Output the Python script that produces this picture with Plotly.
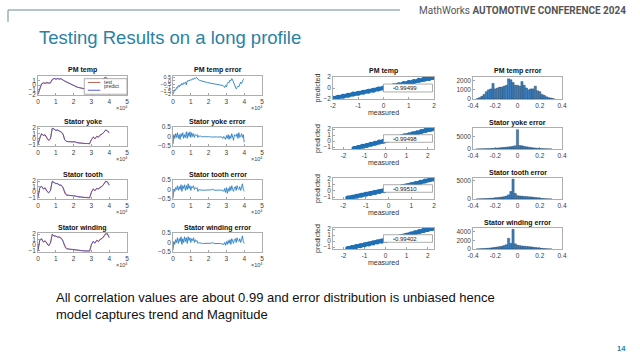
import plotly.graph_objects as go

# ---------------- data ----------------
ts_titles = ["PM temp", "Stator yoke", "Stator tooth", "Stator winding"]
err_titles = ["PM temp error", "Stator yoke error", "Stator tooth error", "Stator winding error"]
hist_titles = ["PM temp error", "Stator yoke error", "Stator tooth error", "Stator winding error"]
time_ticks = [0, 1, 2, 3, 4, 5]

pm_test = [-2.0,-0.6,0.2,0.5,0.3,0.6,0.4,0.5,1.2,1.35,1.2,1.4,1.2,1.35,1.0,0.8,0.6,0.4,0.2,0.0,-0.15,-0.3,-0.45,-0.55,-0.65,-0.75,-0.85,-0.9,-1.0,-1.05,-0.8,-0.5,-0.3,0.0,0.3,0.5,0.9,1.4,1.6,1.2,1.0]
pm_pred = [-1.9,-0.5,0.3,0.4,0.4,0.5,0.5,0.4,1.1,1.4,1.3,1.3,1.3,1.3,1.05,0.85,0.62,0.42,0.22,0.02,-0.12,-0.28,-0.43,-0.53,-0.63,-0.73,-0.83,-0.88,-0.98,-1.0,-0.7,-0.6,-0.2,-0.1,0.4,0.4,1.0,1.3,1.7,1.3,1.1]
yoke_test = [-1.0,0.2,1.0,0.6,0.8,0.1,-0.3,0.0,2.0,1.8,1.6,1.7,1.4,1.3,1.0,-0.2,-0.45,-0.5,-0.5,-0.5,-0.5,-0.55,-0.7,-0.75,-0.75,-0.8,-0.8,-0.85,-0.85,-0.9,-0.1,0.3,0.0,0.5,0.3,0.8,0.9,1.3,1.6,1.5,1.1]
yoke_pred = [-0.9,0.3,0.9,0.7,0.7,0.2,-0.2,0.1,1.9,1.9,1.5,1.6,1.5,1.2,0.9,-0.1,-0.45,-0.5,-0.5,-0.5,-0.5,-0.55,-0.7,-0.75,-0.75,-0.8,-0.8,-0.85,-0.85,-0.85,-0.2,0.4,0.1,0.4,0.4,0.7,1.0,1.2,1.7,1.4,1.2]
tooth_test = [-1.0,0.8,1.0,0.6,0.7,0.1,-0.2,0.3,2.0,1.7,1.6,1.5,1.3,1.2,0.9,-0.2,-0.6,-0.6,-0.65,-0.7,-0.7,-0.75,-0.9,-0.95,-0.95,-1.0,-1.0,-1.0,-1.05,-1.1,0.0,0.5,0.2,0.7,0.5,0.9,1.0,1.5,2.0,1.8,1.3]
tooth_pred = [-0.9,0.7,1.1,0.5,0.8,0.2,-0.1,0.2,1.9,1.8,1.5,1.6,1.2,1.3,0.8,-0.1,-0.6,-0.6,-0.65,-0.7,-0.7,-0.75,-0.9,-0.95,-0.95,-1.0,-1.0,-1.0,-1.05,-1.05,-0.1,0.6,0.3,0.6,0.6,0.8,1.1,1.4,1.9,1.9,1.2]
wind_test = [-1.1,0.9,1.1,0.5,0.8,0.2,-0.2,0.4,2.0,1.6,1.7,1.4,1.5,1.2,0.8,-0.3,-0.7,-0.75,-0.8,-0.8,-0.85,-0.9,-1.0,-1.05,-1.05,-1.1,-1.1,-1.1,-1.15,-1.15,0.1,0.6,0.3,0.9,0.6,1.1,1.2,1.6,2.1,2.0,1.4]
wind_pred = [-1.0,0.8,1.2,0.6,0.7,0.3,-0.1,0.3,1.9,1.7,1.6,1.5,1.4,1.3,0.7,-0.2,-0.7,-0.75,-0.8,-0.8,-0.85,-0.9,-1.0,-1.05,-1.05,-1.1,-1.1,-1.1,-1.15,-1.1,0.0,0.7,0.4,0.8,0.7,1.0,1.3,1.5,2.0,2.1,1.3]

pm_err = [-2.0,-1.6,-1.3,-1.4,-1.0,-1.1,-0.7,-0.9,-0.6,-0.7,-0.4,-0.6,-0.3,-0.4,-0.2,-0.6,0.0,-0.1,0.1,0.0,0.2,0.1,0.3,0.2,0.4,0.3,0.5,0.4,0.2,0.1,0.05,0.0,-0.05,-0.1,-0.12,-0.15,-0.2,-0.22,-0.25,-0.28,-0.3,-0.32,-0.35,-0.37,-0.4,-0.42,-0.45,-0.47,-0.5,-0.52,-0.55,-0.57,-0.6,-0.62,-0.65,-0.67,-0.7,-0.8,-1.0,-0.7,-0.9,-0.4,-0.2,-0.3,0.1,0.0,0.3,0.1,-0.3,-0.6,-1.0,-1.2,-1.0,-0.8,-0.9,-0.5,-0.2,-0.4,0.0,0.2,0.3]
yoke_err = [-0.4,0.1,-0.1,0.15,-0.05,0.2,-0.1,0.1,-0.15,0.15,0.0,0.2,-0.1,0.1,-0.05,0.25,-0.1,0.2,0.0,0.25,-0.05,0.2,0.0,0.15,-0.05,0.1,0.05,0.1,-0.05,0.05,0.0,0.02,-0.02,0.0,0.0,-0.02,0.0,0.0,-0.02,0.0,0.0,-0.02,0.0,-0.02,-0.03,-0.02,-0.03,-0.02,-0.03,-0.02,-0.03,-0.02,-0.03,-0.03,-0.02,-0.03,-0.1,0.0,-0.05,-0.15,0.05,-0.1,0.1,-0.15,0.05,-0.1,0.15,0.0,-0.2,0.1,0.05,0.0,0.15,-0.1,0.2,-0.05,0.0,0.15,-0.05,0.1,-0.3]
tooth_err = [-0.45,0.0,-0.1,0.1,0.0,0.2,-0.05,0.15,0.0,0.25,-0.1,0.2,0.05,0.25,-0.05,0.2,0.0,0.3,0.05,0.2,-0.05,0.15,0.1,0.2,0.0,0.1,0.05,0.1,-0.1,0.0,-0.02,-0.03,-0.03,-0.03,-0.03,-0.04,-0.03,-0.03,-0.04,-0.03,-0.03,-0.03,-0.03,-0.02,0.02,-0.03,-0.03,-0.04,-0.03,-0.03,-0.04,-0.03,-0.03,-0.03,-0.04,-0.03,-0.05,-0.1,0.05,-0.15,0.1,-0.2,0.05,-0.1,0.15,-0.05,0.2,0.0,-0.1,0.1,0.15,-0.05,0.2,0.05,0.0,0.15,-0.05,0.1,0.3,0.0,-0.1]
wind_err = [-0.4,0.05,-0.1,0.15,0.0,0.25,-0.05,0.2,0.05,0.3,-0.1,0.2,0.0,0.3,0.05,0.25,-0.05,0.3,0.1,0.25,0.0,0.2,0.1,0.25,0.0,0.15,0.05,0.1,-0.05,0.0,-0.02,-0.05,-0.04,-0.05,-0.05,-0.06,-0.05,-0.05,-0.06,-0.05,-0.05,-0.05,-0.05,-0.04,0.0,-0.05,-0.05,-0.06,-0.05,-0.05,-0.06,-0.05,-0.05,-0.05,-0.06,-0.05,-0.08,-0.1,0.0,-0.15,0.05,-0.1,0.1,-0.05,0.15,-0.1,0.2,0.05,-0.05,0.15,0.2,0.0,0.25,0.1,0.05,0.2,0.0,0.15,0.35,0.05,-0.05]

sc_pm_meas = [-2.0,-1.8,-1.6,-1.4,-1.2,-1.0,-0.8,-0.6,-0.4,-0.2,0.0,0.2,0.4,0.6,0.8,1.0,1.2,1.4,1.6,1.8,2.0]
sc_pm_pred = [-1.85,-1.7,-1.5,-1.3,-1.1,-0.95,-0.75,-0.6,-0.4,-0.2,0.0,0.2,0.4,0.6,0.8,1.0,1.2,1.4,1.6,1.75,1.9]
sc_yoke_meas = [-1.5,-1.3,-1.1,-0.9,-0.7,-0.5,-0.3,-0.1,0.1,0.3,0.5,0.7,0.9,1.1,1.3,1.5,1.7,1.9,2.1,2.2]
sc_yoke_pred = [-1.2,-1.05,-0.85,-0.7,-0.5,-0.35,-0.15,0.0,0.2,0.35,0.55,0.7,0.9,1.05,1.25,1.4,1.6,1.8,1.95,2.05]
sc_tooth_meas = [-1.8,-1.6,-1.4,-1.2,-1.0,-0.8,-0.6,-0.4,-0.2,0.0,0.2,0.4,0.6,0.8,1.0,1.2,1.4,1.6,1.8,2.0]
sc_tooth_pred = [-1.15,-1.0,-0.85,-0.7,-0.55,-0.4,-0.25,-0.1,0.05,0.2,0.35,0.5,0.65,0.8,1.0,1.2,1.4,1.6,1.8,1.95]
sc_wind_meas = [-1.8,-1.6,-1.4,-1.2,-1.0,-0.8,-0.6,-0.4,-0.2,0.0,0.2,0.4,0.6,0.8,1.0,1.2,1.4,1.6,1.8,2.0,2.2]
sc_wind_pred = [-1.2,-1.05,-0.9,-0.75,-0.6,-0.45,-0.3,-0.15,0.0,0.15,0.3,0.45,0.6,0.8,1.0,1.2,1.4,1.6,1.8,1.95,2.1]
corr_values = ["0.99499", "0.99498", "0.99510", "0.99402"]

hist_start = -0.36
hist_width = 0.02
hist_pm = [50,150,300,500,800,1000,1100,1700,1100,1200,1300,1300,1400,1500,2200,2100,1800,1500,1500,1400,1900,1500,1200,1000,1100,1100,1400,900,800,500,400,250,150,100,50]
hist_yoke = [20,40,60,90,120,160,200,260,320,400,480,560,650,750,850,950,1100,1300,7800,1400,1300,1100,900,750,600,480,380,300,220,160,110,70,40,20]
hist_tooth = [20,40,60,80,110,150,190,240,300,380,450,520,620,800,1100,2000,5300,1500,900,800,750,700,650,600,550,480,420,350,250,160,100,60,30,15]
hist_wind = [20,40,70,100,140,190,250,320,400,480,560,650,800,1000,2500,1300,4600,1200,900,800,700,650,600,550,500,430,360,300,220,150,100,60,30,15]
hist_ticks = [-0.4, -0.2, 0, 0.2, 0.4]
hist_ticktext = ["-0.4", "-0.2", "0", "0.2", "0.4"]

# ---------------- layout helpers ----------------
W, H = 640, 360
FONT = "Liberation Sans, Arial, sans-serif"
TICKF = dict(family=FONT, size=6.5, color="#404040")

colA = (38, 127); colB = (173, 262); colC = (333, 434); colD = (473, 562)
rowsAB = [(76, 95), (127, 146), (180, 199), (233, 252)]
rowsCD = [(77, 99), (128, 149), (178, 199), (228, 249)]

def xd(c): return [c[0] / W, c[1] / W]
def yd(r): return [1 - r[1] / H, 1 - r[0] / H]
def sx(i): return "x" if i == 1 else f"x{i}"
def sy(i): return "y" if i == 1 else f"y{i}"

fig = go.Figure()
layout = dict()
annotations = []
shapes = []

def axis_common():
    return dict(showline=True, mirror=True, linecolor="#9a9a9a", linewidth=0.8,
                ticks="inside", ticklen=2, tickcolor="#666", tickwidth=0.6, automargin=False,
                showgrid=False, zeroline=False, tickfont=TICKF, fixedrange=True)

def add_axes(i, col, row, xrange, xticks, xtext, yrange, yticks, yfont=None):
    xa = axis_common(); ya = axis_common()
    xa.update(domain=xd(col), anchor=sy(i), range=xrange, tickvals=xticks, ticktext=xtext)
    ya.update(domain=yd(row), anchor=sx(i), range=yrange, tickvals=yticks)
    if yfont:
        ya["tickfont"] = dict(TICKF, size=yfont)
    layout["xaxis" if i == 1 else f"xaxis{i}"] = xa
    layout["yaxis" if i == 1 else f"yaxis{i}"] = ya

def add_title(text, col, row):
    annotations.append(dict(text=f"<b>{text}</b>", x=(col[0] + col[1]) / 2 / W, y=1 - (row[0] - 5.5) / H,
                            xref="paper", yref="paper", showarrow=False,
                            font=dict(family=FONT, size=7, color="#111"), xanchor="center", yanchor="middle"))

def add_exp(col, row):
    annotations.append(dict(text="×10<sup>4</sup>", x=(col[1] + 3) / W, y=1 - (row[1] + 13) / H,
                            xref="paper", yref="paper", showarrow=False,
                            font=dict(family=FONT, size=5.5, color="#404040"), xanchor="right", yanchor="middle"))

ts_data = [(pm_test, pm_pred), (yoke_test, yoke_pred), (tooth_test, tooth_pred), (wind_test, wind_pred)]
err_data = [pm_err, yoke_err, tooth_err, wind_err]
ts_ranges = [([-2.1, 1.9], [-2, -1, 0, 1]), ([-1.3, 2.2], [-1, 0, 1, 2]),
             ([-1.3, 2.2], [-1, 0, 1, 2]), ([-1.3, 2.2], [-1, 0, 1, 2])]
err_ranges = [([-2.1, 0.7], [-2, -1.5, -1, -0.5, 0, 0.5]), ([-0.5, 0.5], [-0.5, 0, 0.5]),
              ([-0.5, 0.5], [-0.5, 0, 0.5]), ([-0.5, 0.5], [-0.5, 0, 0.5])]
sc_data = [(sc_pm_meas, sc_pm_pred), (sc_yoke_meas, sc_yoke_pred),
           (sc_tooth_meas, sc_tooth_pred), (sc_wind_meas, sc_wind_pred)]
sc_xr = [[-2, 2], [-2.5, 2.3], [-2.45, 2.0], [-2.5, 2.3]]
sc_yr = [([-2, 2], [-2, 0, 2]), ([-1.3, 2.2], [-1, 0, 1, 2]), ([-1.3, 2.1], [-1, 0, 1, 2]), ([-1.3, 2.2], [-1, 0, 1, 2])]
hist_data = [hist_pm, hist_yoke, hist_tooth, hist_wind]
hist_yr = [([0, 2400], [0, 1000, 2000]), ([0, 8500], [0, 5000]), ([0, 5600], [0, 5000]), ([0, 4900], [0, 2000, 4000])]

TEST_C = "#b5523b"; PRED_C = "#4650cc"; ERR_C = "#2a7fc4"; SC_C = "#1f6fb4"; HIST_C = "#3f7fbd"

for r in range(4):
    # time series
    i = 4 * r + 1
    add_axes(i, colA, rowsAB[r], [0, 5], time_ticks, [str(t) for t in time_ticks], *ts_ranges[r])
    test, pred = ts_data[r]
    fig.add_trace(go.Scatter(y=test, x0=0, dx=0.1, mode="lines", line=dict(color=TEST_C, width=0.9),
                             xaxis=sx(i), yaxis=sy(i), showlegend=False))
    fig.add_trace(go.Scatter(y=pred, x0=0, dx=0.1, mode="lines", line=dict(color=PRED_C, width=0.9),
                             opacity=0.8, xaxis=sx(i), yaxis=sy(i), showlegend=False))
    add_title(ts_titles[r], colA, rowsAB[r]); add_exp(colA, rowsAB[r])

    # error
    i = 4 * r + 2
    add_axes(i, colB, rowsAB[r], [0, 5], time_ticks, [str(t) for t in time_ticks], *err_ranges[r],
             yfont=(5.5 if r == 0 else None))
    fig.add_trace(go.Scatter(y=err_data[r], x0=0, dx=0.05, mode="lines", line=dict(color=ERR_C, width=0.9),
                             xaxis=sx(i), yaxis=sy(i), showlegend=False))
    add_title(err_titles[r], colB, rowsAB[r]); add_exp(colB, rowsAB[r])

    # scatter
    i = 4 * r + 3
    add_axes(i, colC, rowsCD[r], sc_xr[r], [-2, -1, 0, 1, 2], ["-2", "-1", "0", "1", "2"], *sc_yr[r])
    layout[f"xaxis{i}"]["title"] = dict(text="measured", font=dict(family=FONT, size=7, color="#333"), standoff=1)
    layout[f"yaxis{i}"]["title"] = dict(text="predicted", font=dict(family=FONT, size=7, color="#333"), standoff=1)
    meas, predv = sc_data[r]
    fig.add_trace(go.Scatter(x=meas, y=predv, mode="lines+markers", line=dict(color=SC_C, width=4),
                             marker=dict(color=SC_C, size=5), xaxis=sx(i), yaxis=sy(i), showlegend=False))
    shapes.append(dict(type="rect", xref=f"x{i} domain", yref=f"y{i} domain", x0=0.5, x1=0.985, y0=0.32, y1=0.68,
                       line=dict(color="#8a8a8a", width=0.7), fillcolor="white", layer="above"))
    annotations.append(dict(text="•", xref=f"x{i} domain", yref=f"y{i} domain", x=0.6, y=0.5, showarrow=False,
                            font=dict(family=FONT, size=6, color=SC_C), borderpad=0))
    annotations.append(dict(text=corr_values[r], xref=f"x{i} domain", yref=f"y{i} domain", x=0.84, y=0.5,
                            showarrow=False, font=dict(family=FONT, size=6, color="#222"), borderpad=0))
    if r == 0:
        add_title("PM temp", colC, rowsCD[r])

    # histogram
    i = 4 * r + 4
    add_axes(i, colD, rowsCD[r], [-0.4, 0.4], hist_ticks, hist_ticktext, *hist_yr[r])
    fig.add_trace(go.Bar(y=hist_data[r], x0=hist_start, dx=hist_width, width=hist_width,
                         marker=dict(color=HIST_C, line=dict(color="#1d3d5c", width=0.4)),
                         xaxis=sx(i), yaxis=sy(i), showlegend=False))
    add_title(hist_titles[r], colD, rowsCD[r])

# legend of the first time-series plot
shapes.append(dict(type="rect", xref="x domain", yref="y domain", x0=0.52, x1=1.0, y0=0.04, y1=0.86,
                   line=dict(color="#8a8a8a", width=0.7), fillcolor="white", layer="above"))
shapes.append(dict(type="line", xref="x domain", yref="y domain", x0=0.56, x1=0.70, y0=0.66, y1=0.66,
                   line=dict(color=TEST_C, width=0.9), layer="above"))
shapes.append(dict(type="line", xref="x domain", yref="y domain", x0=0.56, x1=0.70, y0=0.25, y1=0.25,
                   line=dict(color=PRED_C, width=0.9), layer="above"))
annotations.append(dict(text="test", xref="x domain", yref="y domain", x=0.73, y=0.66, xanchor="left",
                        showarrow=False, font=dict(family=FONT, size=5, color="#333"), borderpad=0))
annotations.append(dict(text="predict", xref="x domain", yref="y domain", x=0.73, y=0.25, xanchor="left",
                        showarrow=False, font=dict(family=FONT, size=5, color="#333"), borderpad=0))

# slide decoration
TEAL = "#2a82a3"
shapes.append(dict(type="line", xref="paper", yref="paper", x0=8 / W, x1=400 / W, y0=1 - 10 / H, y1=1 - 10 / H,
                   line=dict(color="#6d8a96", width=1)))
shapes.append(dict(type="line", xref="paper", yref="paper", x0=8 / W, x1=8 / W, y0=1 - 10 / H, y1=1 - 22 / H,
                   line=dict(color="#6d8a96", width=1)))
annotations.append(dict(text="MathWorks <b>AUTOMOTIVE CONFERENCE 2024</b>", xref="paper", yref="paper",
                        x=628 / W, y=1 - 10 / H, xanchor="right", yanchor="middle", showarrow=False,
                        font=dict(family="Roboto, sans-serif", size=10, color="#555")))
annotations.append(dict(text="Testing Results on a long profile", xref="paper", yref="paper",
                        x=37 / W, y=1 - 38 / H, xanchor="left", yanchor="middle", showarrow=False,
                        font=dict(family=FONT, size=18.5, color=TEAL)))
annotations.append(dict(text="All correlation values are about 0.99 and error distribution is unbiased hence<br>model captures trend and Magnitude",
                        xref="paper", yref="paper", x=54 / W, y=1 - 306 / H, xanchor="left", yanchor="middle",
                        align="left", showarrow=False, font=dict(family=FONT, size=13, color="#111")))
annotations.append(dict(text="<b>14</b>", xref="paper", yref="paper", x=628 / W, y=1 - 348 / H,
                        xanchor="right", yanchor="middle", showarrow=False,
                        font=dict(family=FONT, size=7.5, color=TEAL)))

fig.update_layout(width=W, height=H, margin=dict(l=0, r=0, t=0, b=0, autoexpand=False), paper_bgcolor="white",
                  plot_bgcolor="white", bargap=0, showlegend=False, annotations=annotations, shapes=shapes,
                  **layout)
fig.write_html("out.html", config={"displayModeBar": False, "staticPlot": True},
               post_script="document.body.style.margin='0px';")
